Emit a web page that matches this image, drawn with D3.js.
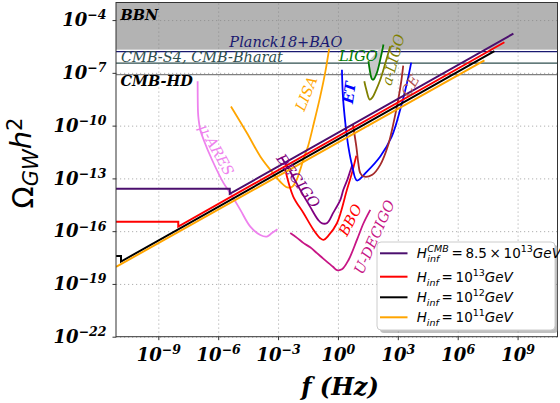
<!DOCTYPE html>
<html lang="en">
<head>
<meta charset="UTF-8">
<title>GW energy spectrum vs detector sensitivities</title>
<script src="https://d3js.org/d3.v7.min.js"></script>
<style>
  body { margin: 0; background: #fff; }
  svg { display: block; }
  .axis path, .axis line { stroke: #333; }
  .axis text { font-family: "DejaVu Serif", serif; font-style: italic; font-weight: bold; font-size: 18px; fill: #000; }
  .grid line { stroke: #b0b0b0; stroke-dasharray: 1.2, 2.8; }
  .grid path { display: none; }
  .lbl { font-family: "DejaVu Serif", serif; font-style: italic; font-size: 14.5px; }
  .legend text { font-family: "DejaVu Sans", sans-serif; }
</style>
</head>
<body>
<div id="chart"></div>
<script>
// every point is [log10 f (Hz), log10 Omega_GW h^2]

// primary spectra for four values of H_inf
const specHcmb = [[-11.12, -13.59], [-5.42, -13.59], [-5.42, -13.88], [8.79, -4.77]];
const spec1e13 = [[-11.12, -15.46], [-8.0, -15.46], [-8.0, -15.74], [8.34, -5.26]];
const spec1e12 = [[-11.12, -17.41], [-10.87, -17.41], [-10.87, -17.73], [7.84, -5.77]];
const spec1e11 = [[-11.12, -18.03], [7.34, -6.29]];

// detector sensitivity curves
const muAres = [[-7.03, -7.48], [-7.01, -9.26], [-6.98, -9.66], [-6.90, -10.23], [-6.73, -10.80],
  [-6.31, -11.94], [-5.73, -13.27], [-5.39, -13.84], [-4.89, -14.79], [-4.39, -15.74],
  [-3.89, -16.22], [-3.56, -16.31], [-3.31, -16.11], [-3.03, -15.89]];
const lisa = [[-5.36, -8.91], [-4.56, -10.42], [-3.89, -11.75], [-3.39, -12.51], [-2.89, -13.19],
  [-2.54, -13.51], [-2.29, -13.48], [-2.09, -13.14], [-1.89, -12.51], [-1.69, -11.77],
  [-1.49, -11.14], [-1.19, -9.78], [-0.89, -8.35], [-0.64, -6.99], [-0.44, -5.62]];
const decigo = [[-2.84, -11.78], [-2.39, -12.62], [-1.89, -13.65], [-1.39, -14.62], [-0.99, -15.36],
  [-0.79, -15.56], [-0.54, -15.53], [-0.24, -14.96], [0.12, -14.22], [0.27, -13.65],
  [0.47, -13.08], [0.62, -12.57], [0.72, -12.23]];
const bbo = [[-2.64, -12.51], [-2.24, -14.03], [-1.72, -14.98], [-1.22, -15.93], [-0.89, -16.40],
  [-0.72, -16.50], [-0.49, -16.27], [-0.05, -15.55], [0.45, -13.65], [0.70, -12.70], [0.92, -11.71]];
const uDecigo = [[-2.39, -16.11], [-2.05, -16.38], [-1.72, -16.68], [-1.39, -16.92], [-1.05, -17.25],
  [-0.75, -17.55], [-0.47, -17.82], [-0.25, -18.02], [-0.05, -18.21], [0.20, -18.17],
  [0.53, -17.64], [0.95, -16.50], [1.28, -15.55], [1.62, -14.79]];
const et = [[0.20, -6.82], [0.25, -8.34], [0.37, -9.85], [0.52, -11.18], [0.72, -12.32], [0.95, -13.12],
  [1.45, -12.61], [2.12, -11.75], [2.70, -10.61], [3.12, -9.09], [3.46, -7.57], [3.67, -6.42]];
const ce = [[0.75, -9.95], [0.92, -11.18], [1.02, -12.13], [1.12, -12.70], [1.28, -12.89], [1.72, -12.79],
  [2.12, -12.23], [2.52, -11.09], [2.82, -9.66], [3.02, -8.52], [3.17, -7.50], [3.27, -6.59]];
const ligo = [[1.53, -6.34], [1.59, -6.82], [1.70, -7.35], [1.77, -7.39], [1.95, -7.00], [2.12, -6.25], [2.28, -5.39]];
const aLigo = [[1.32, -7.48], [1.42, -7.95], [1.59, -8.52], [1.72, -8.41], [1.92, -7.95],
  [2.12, -7.39], [2.37, -6.47], [2.62, -5.49]];

// horizontal bounds (log10 Omega h^2)
const bbnBound = -5.68;
const planckBound = -5.79;
const cmbS4Bound = -6.45;
const cmbHdBound = -7.10;

const xTickExp = [-9, -6, -3, 0, 3, 6, 9];
const yTickExp = [-22, -19, -16, -13, -10, -7, -4];

const W = 560, H = 403;
const plotL = 116, plotR = 557.5, plotT = 2.5, plotB = 336.7;

const x = d3.scaleLog().domain([10 ** -11.12, 1e11]).range([plotL, plotR]);
const y = d3.scaleLog().domain([1e-22, 1e-3]).range([plotB, plotT]);
const px = d => x(10 ** d[0]);
const py = d => y(10 ** d[1]);

const svg = d3.select("#chart").append("svg").attr("width", W).attr("height", H);

svg.append("clipPath").attr("id", "clip")
  .append("rect").attr("x", plotL).attr("y", plotT).attr("width", plotR - plotL).attr("height", plotB - plotT);

// grid
svg.append("g").attr("class", "grid")
  .attr("transform", `translate(0,${plotB})`)
  .call(d3.axisBottom(x).tickValues(xTickExp.map(e => 10 ** e)).tickSize(-(plotB - plotT)).tickFormat(""));
svg.append("g").attr("class", "grid")
  .attr("transform", `translate(${plotL},0)`)
  .call(d3.axisLeft(y).tickValues(yTickExp.map(e => 10 ** e)).tickSize(-(plotR - plotL)).tickFormat(""));

const plot = svg.append("g").attr("clip-path", "url(#clip)");

// BBN excluded region
plot.append("rect")
  .attr("x", plotL).attr("y", plotT)
  .attr("width", plotR - plotL).attr("height", y(10 ** bbnBound) - plotT)
  .attr("fill", "#808080").attr("opacity", 0.6);

const hline = (v, color) => plot.append("line")
  .attr("x1", plotL).attr("x2", plotR)
  .attr("y1", y(10 ** v)).attr("y2", y(10 ** v))
  .attr("stroke", color).attr("stroke-width", 1.3);
hline(planckBound, "#191970");
hline(cmbS4Bound, "#2f4f4f");
hline(cmbHdBound, "#808080");

const smooth = d3.line().x(px).y(py).curve(d3.curveCatmullRom.alpha(0.5));
const straight = d3.line().x(px).y(py);

// LIGO excluded pocket
plot.append("path").attr("d", straight(ligo) + "Z").attr("fill", "#c8c8c8").attr("stroke", "none");

const curves = [
  [muAres, "#ee82ee"], [lisa, "#ffa500"], [decigo, "#800080"], [bbo, "#ff0000"],
  [uDecigo, "#c71585"], [et, "#0000ff"], [ce, "#a52a2a"], [ligo, "#007a00"], [aLigo, "#808000"]
];
curves.forEach(([pts, c]) => {
  plot.append("path").attr("d", smooth(pts))
    .attr("fill", "none").attr("stroke", c).attr("stroke-width", 1.8);
});

const spectra = [
  [specHcmb, "#4b0f6e"], [spec1e13, "#ff0000"], [spec1e12, "#000000"], [spec1e11, "#ffa500"]
];
spectra.forEach(([pts, c]) => {
  plot.append("path").attr("d", straight(pts))
    .attr("fill", "none").attr("stroke", c).attr("stroke-width", 2);
});

// text annotations: [text, log f, log Omega, angle, colour, weight, anchor]
const notes = [
  ["BBN", -10.9, -3.97, 0, "#000", "bold", "start"],
  ["Planck18+BAO", -5.44, -5.55, 0, "#191970", "normal", "start"],
  ["CMB-S4, CMB-Bharat", -10.87, -6.40, 0, "#2f4f4f", "normal", "start"],
  ["CMB-HD", -10.9, -7.73, 0, "#000", "bold", "start"],
  ["μ-ARES", -6.09, -11.37, 61, "#ee82ee", "normal", "middle"],
  ["LISA", -1.59, -8.18, -68, "#ffa500", "normal", "middle"],
  ["ET", 0.57, -8.13, -82, "#0000ff", "bold", "middle"],
  ["LIGO", 1.02, -6.02, 0, "#007a00", "normal", "middle"],
  ["a-LIGO", 2.77, -6.25, -75, "#808000", "normal", "middle"],
  ["CE", 3.62, -7.73, -60, "#b05050", "normal", "middle"],
  ["DECIGO", -1.99, -13.14, 54, "#800080", "normal", "middle"],
  ["BBO", 0.62, -15.36, -62, "#ff0000", "normal", "middle"],
  ["U-DECIGO", 1.82, -16.33, -66, "#c71585", "normal", "middle"]
];
notes.forEach(([t, lf, lo, a, c, w, anc]) => {
  const cx = x(10 ** lf), cy = y(10 ** lo);
  svg.append("text").attr("class", "lbl")
    .attr("transform", `translate(${cx},${cy}) rotate(${a})`)
    .attr("dy", anc === "middle" ? "0.35em" : 0)
    .attr("text-anchor", anc)
    .attr("font-weight", w)
    .attr("fill", c)
    .text(t);
});

// axes
const sup = (sel) => sel.each(function(d) {
  const t = d3.select(this);
  const e = Math.round(Math.log10(d));
  t.text(null);
  t.append("tspan").text("10");
  t.append("tspan").attr("dy", "-0.55em").attr("font-size", "12.5px").text(String(e).replace("-", "\u2212"));
});

svg.append("g").attr("class", "axis")
  .attr("transform", `translate(0,${plotB})`)
  .call(d3.axisBottom(x).tickValues(xTickExp.map(e => 10 ** e)).tickSize(3.5).tickPadding(8))
  .call(g => g.select(".domain").remove())
  .selectAll(".tick text").call(sup);

svg.append("g").attr("class", "axis")
  .attr("transform", `translate(${plotL},0)`)
  .call(d3.axisLeft(y).tickValues(yTickExp.map(e => 10 ** e)).tickSize(3.5).tickPadding(6))
  .call(g => g.select(".domain").remove())
  .selectAll(".tick text").call(sup);

// frame
svg.append("rect")
  .attr("x", plotL).attr("y", plotT).attr("width", plotR - plotL).attr("height", plotB - plotT)
  .attr("fill", "none").attr("stroke", "#333").attr("stroke-width", 1);

// axis titles
svg.append("text")
  .attr("x", 340).attr("y", 395)
  .attr("text-anchor", "middle")
  .style("font-family", "'DejaVu Serif', serif").style("font-style", "italic").style("font-weight", "bold")
  .style("font-size", "24px")
  .text("f (Hz)");

const yt = svg.append("text")
  .attr("transform", "translate(33,163) rotate(-90)")
  .attr("text-anchor", "middle")
  .style("font-family", "'DejaVu Sans', sans-serif").style("font-size", "29px");
yt.append("tspan").text("Ω");
yt.append("tspan").attr("dy", "0.25em").attr("font-size", "21px").attr("font-style", "italic").text("GW");
yt.append("tspan").attr("dy", "-0.25em").attr("font-style", "italic").text("h");
yt.append("tspan").attr("dy", "-0.45em").attr("font-size", "21px").text("2");

// legend
const lg = svg.append("g").attr("class", "legend");
const lx = 377, ly = 242, lw = 178, lh = 88;
lg.append("rect").attr("x", lx + 3).attr("y", ly + 3).attr("width", lw).attr("height", lh)
  .attr("rx", 4).attr("fill", "#7f7f7f").attr("opacity", 0.5);
lg.append("rect").attr("x", lx).attr("y", ly).attr("width", lw).attr("height", lh)
  .attr("rx", 4).attr("fill", "#fff").attr("stroke", "#cccccc");

const eq = "\u2009=\u2009";
const legendRows = [
  { color: "#4b0f6e", y: 253.3, runs: [{ t: "H", it: 1 }, { stack: [{ t: "CMB", it: 1, dy: -6 }, { t: "inf", it: 1, dy: 4 }] }, { t: eq + "8.5\u2009×\u200910" }, { t: "13", sup: 1 }, { t: "GeV", it: 1 }] },
  { color: "#ff0000", y: 276.7, runs: [{ t: "H", it: 1 }, { t: "inf", it: 1, dy: 4, sm: 1 }, { t: eq + "10" }, { t: "13", sup: 1 }, { t: "GeV", it: 1 }] },
  { color: "#000000", y: 297.3, runs: [{ t: "H", it: 1 }, { t: "inf", it: 1, dy: 4, sm: 1 }, { t: eq + "10" }, { t: "12", sup: 1 }, { t: "GeV", it: 1 }] },
  { color: "#ffa500", y: 317.3, runs: [{ t: "H", it: 1 }, { t: "inf", it: 1, dy: 4, sm: 1 }, { t: eq + "10" }, { t: "11", sup: 1 }, { t: "GeV", it: 1 }] }
];

function put(g, cx, base, r, small) {
  const t = g.append("text")
    .attr("x", cx).attr("y", base + (r.dy || 0) + (r.sup ? -6 : 0))
    .style("font-style", r.it ? "italic" : "normal")
    .style("font-size", small || r.sm || r.sup ? "9.5px" : "13.5px")
    .text(r.t);
  return t.node().getComputedTextLength();
}

legendRows.forEach(row => {
  lg.append("line").attr("x1", 380).attr("x2", 407.5).attr("y1", row.y).attr("y2", row.y)
    .attr("stroke", row.color).attr("stroke-width", 2);
  const base = row.y + 5;
  let cx = 416.7;
  row.runs.forEach(r => {
    if (r.stack) {
      cx += 0.5 + d3.max(r.stack.map(s => put(lg, cx + 0.5, base, s, true)));
    } else {
      cx += put(lg, cx, base, r);
    }
  });
});
</script>
</body>
</html>
